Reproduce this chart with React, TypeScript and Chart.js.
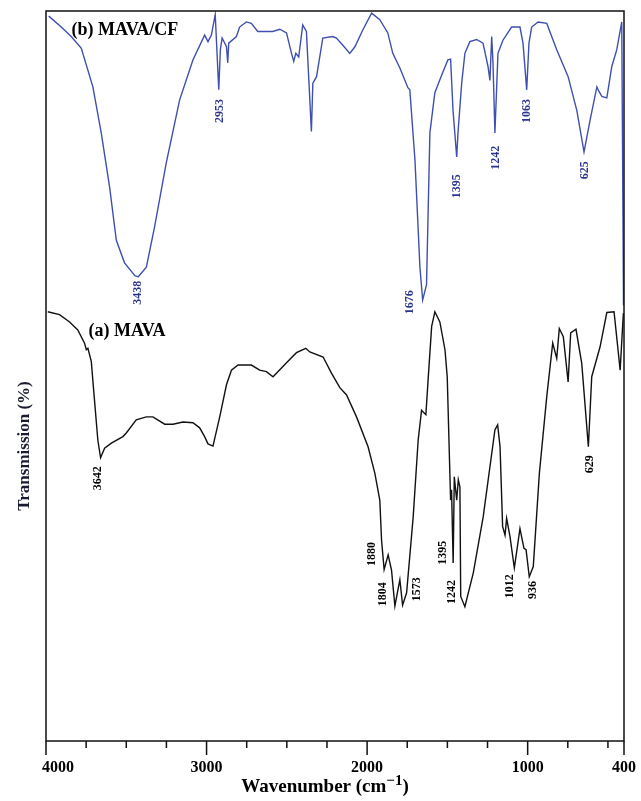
import React, { useEffect, useRef } from "react";
import { Chart, registerables } from "chart.js";
Chart.register(...registerables);

// (b) MAVA/CF spectrum (blue) — wavenumber (cm-1) and transmission (%)
const blueWn = [3983,3905,3843,3780,3708,3656,3604,3562,3511,3445,3425,3375,3324,3251,3168,3085,3012,2991,2970,2946,2924,2914,2903,2876,2868,2862,2814,2794,2752,2721,2681,2588,2544,2502,2471,2457,2444,2426,2401,2378,2347,2338,2315,2276,2214,2191,2151,2108,2076,2027,1972,1921,1871,1840,1796,1746,1734,1702,1671,1654,1630,1609,1578,1536,1497,1480,1465,1442,1434,1411,1391,1360,1318,1278,1247,1235,1224,1216,1204,1193,1185,1154,1100,1048,1029,1006,992,975,935,881,819,748,694,649,611,569,561,538,507,476,445,414,403];
const blueT = [99.3,97.8,96.5,94.9,89.6,83.3,75.9,68.6,65.5,63.7,63.6,64.9,70.4,79.2,87.8,93.3,96.7,95.8,96.7,99.5,89.2,94.7,96.3,95.1,92.9,95.6,96.5,97.8,98.5,98.3,97.2,97.2,97.5,97.0,94.2,93.1,94.2,93.7,98.1,97.2,83.5,90.1,91.0,96.3,96.5,96.3,95.3,94.2,95.1,97.4,99.7,98.8,97.0,94.2,92.2,89.5,89.2,79.6,64.9,60.4,62.5,83.3,88.8,91.2,93.3,93.4,86.4,80.0,83.3,90.1,94.2,95.8,96.1,95.6,92.4,90.5,96.5,92.9,83.3,89.6,94.2,96.0,97.8,97.8,95.6,89.2,95.6,97.8,98.5,98.3,94.7,91.0,86.4,80.7,85.1,89.6,89.2,88.3,88.1,92.4,94.7,98.5,59.7];

// (a) MAVA spectrum (black)
const blackWn = [3989,3916,3853,3802,3760,3749,3739,3718,3698,3677,3660,3635,3593,3521,3500,3438,3375,3334,3261,3209,3147,3085,3043,3012,2991,2960,2918,2876,2845,2804,2721,2669,2627,2586,2502,2440,2382,2357,2274,2222,2170,2128,2066,1994,1952,1921,1910,1894,1869,1848,1827,1796,1779,1754,1713,1682,1661,1634,1620,1598,1578,1547,1515,1501,1480,1474,1464,1457,1442,1432,1422,1417,1391,1339,1277,1204,1187,1172,1156,1141,1131,1110,1083,1048,1023,1010,990,965,927,881,844,819,803,778,748,732,699,663,622,601,549,507,462,424,404];
const blackT = [58.8,58.4,57.4,56.3,54.5,53.6,53.8,52.0,46.7,41.2,38.8,40.1,40.8,41.7,42.2,44.0,44.4,44.4,43.4,43.4,43.7,43.6,42.9,41.7,40.7,40.4,44.4,48.8,50.8,51.5,51.5,50.8,50.6,49.9,51.8,53.2,53.8,53.3,52.6,50.4,48.4,47.4,44.4,40.3,36.7,33.0,27.5,23.5,25.5,23.4,18.5,22.1,18.6,20.3,30.7,41.2,45.3,44.7,49.5,56.8,58.8,57.4,53.6,49.9,33.0,34.4,24.4,36.2,33.0,35.8,34.8,19.8,18.4,23.0,30.7,42.6,43.3,40.3,29.4,28.2,30.5,28.0,23.7,29.1,26.4,26.2,22.5,23.9,36.7,47.2,54.5,52.4,56.5,55.4,49.2,55.9,56.4,51.7,40.3,49.9,54.0,58.7,58.8,50.8,58.6];

const xMajorTicks = [4000, 3000, 2000, 1000, 400];
const xMinorTicks = [3750, 3500, 3250, 2750, 2500, 2250, 1750, 1500, 1250, 750, 500];

const blueLabels = ["3438", "2953", "1676", "1395", "1242", "1063", "625"];
const blueLabelWn = [3429, 2918, 1734, 1441, 1197, 1004, 643];
const blueLabelT = [61.4, 86.3, 60.1, 76.0, 79.9, 86.3, 78.2];

const blackLabels = ["3642", "1880", "1804", "1573", "1395", "1242", "1012", "936", "629"];
const blackLabelWn = [3679, 1971, 1902, 1690, 1528, 1472, 1110, 967, 611];
const blackLabelT = [36.0, 25.6, 20.1, 20.8, 25.8, 20.4, 21.2, 20.7, 37.9];

const seriesNames = ["(b) MAVA/CF", "(a) MAVA"];
const seriesNameWn = [3841, 3735];
const seriesNameT = [97.3, 56.1];

const BLUE = "#3f4fb0";
const BLACK = "#111111";
const SERIF = "'Liberation Serif', 'Times New Roman', serif";

const decor = {
  id: "decor",
  afterDatasetsDraw(chart: any) {
    const { ctx, chartArea: a, scales } = chart;
    const x = scales.x;
    const y = scales.y;
    ctx.save();
    // frame
    ctx.strokeStyle = "#111";
    ctx.lineWidth = 1.5;
    ctx.strokeRect(a.left, a.top, a.right - a.left, a.bottom - a.top);
    // tick marks
    ctx.beginPath();
    xMajorTicks.forEach((v) => {
      const px = x.getPixelForValue(v);
      ctx.moveTo(px, a.bottom);
      ctx.lineTo(px, a.bottom + 14);
    });
    xMinorTicks.forEach((v) => {
      const px = x.getPixelForValue(v);
      ctx.moveTo(px, a.bottom);
      ctx.lineTo(px, a.bottom + 7);
    });
    ctx.stroke();
    // tick labels
    ctx.fillStyle = "#000";
    ctx.font = `bold 16px ${SERIF}`;
    ctx.textBaseline = "middle";
    ctx.textAlign = "center";
    const W = chart.width;
    xMajorTicks.forEach((v) => {
      const s = String(v);
      const w = ctx.measureText(s).width;
      let cx = x.getPixelForValue(v);
      cx = Math.max(cx, a.left - 4 + w / 2);
      cx = Math.min(cx, W - 1 - w / 2);
      ctx.fillText(s, cx, a.bottom + 27);
    });
    // x title with superscript
    const main = "Wavenumber (cm";
    const sup = "\u22121";
    const tail = ")";
    ctx.font = `bold 19px ${SERIF}`;
    const wMain = ctx.measureText(main).width;
    const wTail = ctx.measureText(tail).width;
    ctx.font = `bold 15px ${SERIF}`;
    const wSup = ctx.measureText(sup).width;
    const total = wMain + wSup + wTail;
    let sx = (a.left + a.right) / 2 - total / 2 - 10;
    const ty = a.bottom + 51;
    ctx.textAlign = "left";
    ctx.textBaseline = "alphabetic";
    ctx.font = `bold 19px ${SERIF}`;
    ctx.fillText(main, sx, ty);
    sx += wMain;
    ctx.font = `bold 15px ${SERIF}`;
    ctx.fillText(sup, sx, ty - 7);
    sx += wSup;
    ctx.font = `bold 19px ${SERIF}`;
    ctx.fillText(tail, sx, ty);
    // y title
    ctx.save();
    ctx.translate(25, 446);
    ctx.rotate(-Math.PI / 2);
    ctx.font = `bold 17px ${SERIF}`;
    ctx.fillStyle = "#1a1a33";
    ctx.textAlign = "center";
    ctx.textBaseline = "middle";
    ctx.fillText("Transmission (%)", 0, 0);
    ctx.restore();
    // peak labels
    const drawRot = (txt: string, wn: number, t: number, color: string, font: string) => {
      ctx.save();
      ctx.translate(x.getPixelForValue(wn), y.getPixelForValue(t));
      ctx.rotate(-Math.PI / 2);
      ctx.font = font;
      ctx.fillStyle = color;
      ctx.textAlign = "center";
      ctx.textBaseline = "middle";
      ctx.fillText(txt, 0, 0);
      ctx.restore();
    };
    blueLabels.forEach((s, i) => drawRot(s, blueLabelWn[i], blueLabelT[i], "#2b3590", `bold 12px ${SERIF}`));
    blackLabels.forEach((s, i) => drawRot(s, blackLabelWn[i], blackLabelT[i], "#000", `bold 12px ${SERIF}`));
    // series names
    ctx.font = `bold 18px ${SERIF}`;
    ctx.fillStyle = "#000";
    ctx.textAlign = "left";
    ctx.textBaseline = "middle";
    seriesNames.forEach((s, i) => {
      ctx.fillText(s, x.getPixelForValue(seriesNameWn[i]), y.getPixelForValue(seriesNameT[i]));
    });
    ctx.restore();
  },
};

export default function App() {
  const ref = useRef<HTMLCanvasElement | null>(null);
  useEffect(() => {
    document.body.style.margin = "0";
    const canvas = ref.current;
    if (!canvas) return;
    const chart = new Chart(canvas, {
      type: "line",
      data: {
        datasets: [
          {
            label: "(a) MAVA",
            data: blackWn.map((w, i) => ({ x: w, y: blackT[i] })),
            borderColor: BLACK,
            borderWidth: 1.4,
            pointRadius: 0,
            tension: 0,
            fill: false,
          },
          {
            label: "(b) MAVA/CF",
            data: blueWn.map((w, i) => ({ x: w, y: blueT[i] })),
            borderColor: BLUE,
            borderWidth: 1.4,
            pointRadius: 0,
            tension: 0,
            fill: false,
          },
        ],
      },
      options: {
        animation: false,
        responsive: false,
        maintainAspectRatio: false,
        layout: { padding: { left: 46, top: 11, right: 17, bottom: 0 } },
        plugins: { legend: { display: false }, tooltip: { enabled: false } },
        scales: {
          x: {
            type: "linear",
            reverse: true,
            min: 400,
            max: 4000,
            grid: { display: false },
            border: { display: false },
            ticks: { display: false },
            afterFit: (s: any) => {
              s.height = 60;
            },
          },
          y: {
            type: "linear",
            min: 0,
            max: 100,
            display: false,
          },
        },
      },
      plugins: [decor],
    } as any);
    return () => chart.destroy();
  }, []);
  return (
    <div style={{ width: 641, height: 801 }}>
      <canvas ref={ref} width={641} height={801} style={{ display: "block" }} />
    </div>
  );
}
